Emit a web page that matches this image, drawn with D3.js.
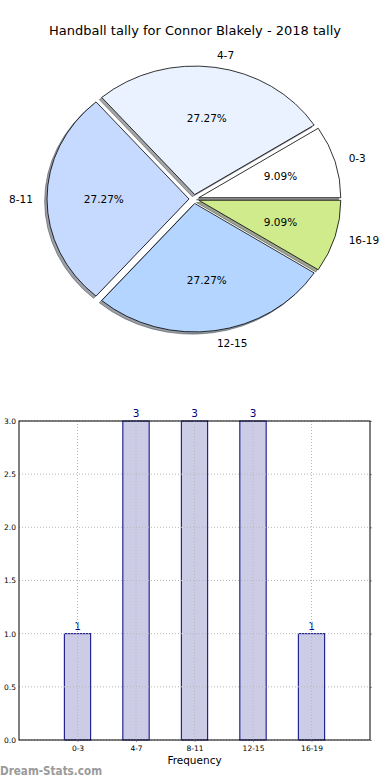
<!DOCTYPE html>
<html>
<head>
<meta charset="utf-8">
<script src="https://cdn.jsdelivr.net/npm/d3@7/dist/d3.min.js"></script>
<style>
  html, body { margin: 0; padding: 0; background: #fff; }
  svg { display: block; font-family: "DejaVu Sans", sans-serif; }
</style>
</head>
<body>
<svg id="chart" width="390" height="780"></svg>
<script>
const title = "Handball tally for Connor Blakely - 2018 tally";
const categories = ["0-3", "4-7", "8-11", "12-15", "16-19"];
const values = [1, 3, 3, 3, 1];
const pieColors = ["#ffffff", "#eaf2ff", "#c6d9ff", "#b4d5ff", "#cfeb8b"];
const yTicks = [0.0, 0.5, 1.0, 1.5, 2.0, 2.5, 3.0];
const xLabel = "Frequency";
const watermark = "Dream-Stats.com";

const svg = d3.select("#chart");

// ---------- Title ----------
svg.append("text")
  .attr("x", 195).attr("y", 30)
  .attr("text-anchor", "middle").attr("dominant-baseline", "central")
  .attr("font-size", 13).attr("fill", "#000")
  .text(title);

// ---------- Pie ----------
const cx = 194, cy = 199, rx = 142, ry = 128.5, explode = 0.035;
const total = d3.sum(values);
const pie = d3.pie().sort(null).value(d => d)(values);
const arc = d3.arc().innerRadius(0).outerRadius(rx);
const pieG = svg.append("g");

function wedgeArc(p) {
  // matplotlib angles: counter-clockwise from 3 o'clock; d3: clockwise from 12
  return arc({ startAngle: Math.PI / 2 - p.endAngle, endAngle: Math.PI / 2 - p.startAngle });
}
function midAngle(p) { return (p.startAngle + p.endAngle) / 2; }

// shadows
pie.forEach((p, i) => {
  const m = midAngle(p);
  const ox = cx + explode * rx * Math.cos(m) - 0.017 * rx;
  const oy = cy - explode * ry * Math.sin(m) + 0.017 * ry;
  const c = d3.rgb(pieColors[i]);
  const sc = `rgb(${c.r * 0.3},${c.g * 0.3},${c.b * 0.3})`;
  pieG.append("path")
    .attr("transform", `translate(${ox},${oy}) scale(1,${ry / rx})`)
    .attr("d", wedgeArc(p))
    .attr("fill", sc).attr("fill-opacity", 0.5)
    .attr("stroke", sc).attr("stroke-opacity", 0.5)
    .attr("vector-effect", "non-scaling-stroke");
});
// wedges
pie.forEach((p, i) => {
  const m = midAngle(p);
  const ox = cx + explode * rx * Math.cos(m);
  const oy = cy - explode * ry * Math.sin(m);
  pieG.append("path")
    .attr("transform", `translate(${ox},${oy}) scale(1,${ry / rx})`)
    .attr("d", wedgeArc(p))
    .attr("fill", pieColors[i])
    .attr("stroke", "#000").attr("stroke-width", 0.8)
    .attr("vector-effect", "non-scaling-stroke");
  const lx = cx + (1.1 + explode) * rx * Math.cos(m);
  const ly = cy - (1.1 + explode) * ry * Math.sin(m);
  pieG.append("text")
    .attr("x", lx).attr("y", ly)
    .attr("text-anchor", Math.cos(m) > 0 ? "start" : "end")
    .attr("dominant-baseline", "central")
    .attr("font-size", 10.5).attr("fill", "#000")
    .text(categories[i]);
  const px = cx + (0.6 + explode) * rx * Math.cos(m);
  const py = cy - (0.6 + explode) * ry * Math.sin(m);
  pieG.append("text")
    .attr("x", px).attr("y", py)
    .attr("text-anchor", "middle").attr("dominant-baseline", "central")
    .attr("font-size", 10.5).attr("fill", "#000")
    .text((values[i] / total * 100).toFixed(2) + "%");
});

// ---------- Bar chart ----------
const plotLeft = 19, plotRight = 370, plotTop = 421, plotBottom = 740;
const x = d3.scaleLinear().domain([-1, 5]).range([plotLeft, plotRight]);
const y = d3.scaleLinear().domain([0, 3]).range([plotBottom, plotTop]);
const barW = 0.45;
const barG = svg.append("g");

barG.selectAll("rect.bar").data(values).enter().append("rect")
  .attr("class", "bar")
  .attr("x", (d, i) => x(i - barW / 2))
  .attr("width", (d, i) => x(i + barW / 2) - x(i - barW / 2))
  .attr("y", d => y(d))
  .attr("height", d => y(0) - y(d))
  .attr("fill", "#ccccE6")
  .attr("stroke", "#000080").attr("stroke-width", 1);

const gridG = svg.append("g").attr("stroke", "#b8b8b8").attr("stroke-width", 1)
  .attr("stroke-dasharray", "1,2");
categories.forEach((c, i) => {
  gridG.append("line").attr("x1", x(i)).attr("x2", x(i)).attr("y1", plotTop).attr("y2", plotBottom);
});
yTicks.forEach(t => {
  gridG.append("line").attr("x1", plotLeft).attr("x2", plotRight).attr("y1", y(t)).attr("y2", y(t));
});

const xAxis = d3.axisBottom(x).tickValues(d3.range(categories.length))
  .tickFormat(i => categories[i]).tickSizeInner(2).tickSizeOuter(0).tickPadding(4);
const gx = svg.append("g").attr("transform", `translate(0,${plotBottom})`).call(xAxis);
gx.select(".domain").remove();
gx.selectAll("line").attr("stroke", "#999");
gx.selectAll("text").attr("font-size", 7.5).attr("font-family", "DejaVu Sans").attr("fill", "#000");

const yAxis = d3.axisLeft(y).tickValues(yTicks).tickFormat(d3.format(".1f"))
  .tickSizeInner(0).tickSizeOuter(0).tickPadding(3);
const gy = svg.append("g").attr("transform", `translate(${plotLeft},0)`).call(yAxis);
gy.select(".domain").remove();
gy.selectAll("text").attr("font-size", 7.5).attr("font-family", "DejaVu Sans").attr("fill", "#000");

// right-side small ticks
const gr = svg.append("g").attr("transform", `translate(${plotRight},0)`)
  .call(d3.axisRight(y).tickValues(yTicks).tickSizeInner(2).tickSizeOuter(0).tickFormat(""));
gr.select(".domain").remove();
gr.selectAll("line").attr("stroke", "#999");

svg.append("rect")
  .attr("x", plotLeft).attr("y", plotTop)
  .attr("width", plotRight - plotLeft).attr("height", plotBottom - plotTop)
  .attr("fill", "none").attr("stroke", "#000").attr("stroke-width", 1);

barG.selectAll("text.val").data(values).enter().append("text")
  .attr("class", "val")
  .attr("x", (d, i) => x(i))
  .attr("y", d => y(d) - 4)
  .attr("text-anchor", "middle")
  .attr("font-size", 10.5).attr("fill", "#000080")
  .text(d => d);

svg.append("text")
  .attr("x", x(2)).attr("y", 760)
  .attr("text-anchor", "middle").attr("dominant-baseline", "central")
  .attr("font-size", 10.5).attr("fill", "#000")
  .text(xLabel);

svg.append("text")
  .attr("x", 0).attr("y", 771)
  .attr("dominant-baseline", "central")
  .attr("font-size", 11.5).attr("font-weight", "bold").attr("fill", "#9a9a9a")
  .attr("textLength", 102).attr("lengthAdjust", "spacingAndGlyphs")
  .text(watermark);
</script>
</body>
</html>
